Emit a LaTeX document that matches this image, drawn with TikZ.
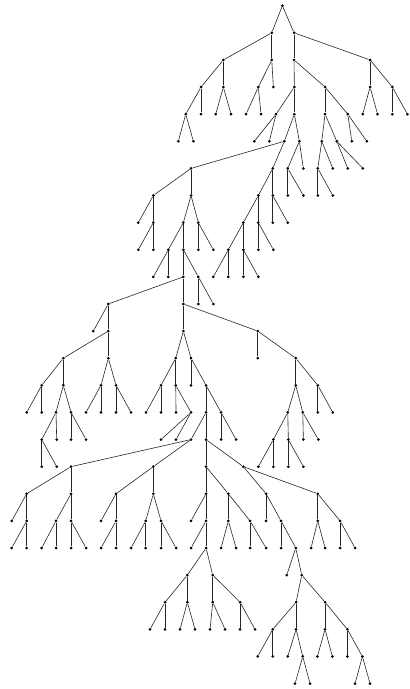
\documentclass[tikz,border=0pt]{standalone}
\usepackage{tikz}

\begin{document}
\begin{tikzpicture}[x=1pt, y=-27.11pt,
  dot/.style={circle, fill=black, inner sep=0pt, minimum size=3pt},
  edge/.style={draw=black!85, line width=0.6pt}]
\useasboundingbox (0,-0.21) rectangle (409,25.2);
% root
\node[dot] (n0-1) at (282.3,0) {};
% levels 1 to 4
\foreach \n/\x/\p in {1/271.7/0-1, 2/294/0-1}
  {\node[dot] (n1-\n) at (\x,1) {}; \draw[edge] (n\p) -- (n1-\n);}
\foreach \n/\x/\p in {1/223.3/1-1, 2/271.7/1-1, 3/294/1-2, 4/370/1-2}
  {\node[dot] (n2-\n) at (\x,2) {}; \draw[edge] (n\p) -- (n2-\n);}
\foreach \n/\x/\p in {1/201/2-1, 2/223.3/2-1, 3/258.3/2-2, 4/273.3/2-2,
    5/294.3/2-3, 6/325/2-3, 7/370/2-4, 8/392.3/2-4}
  {\node[dot] (n3-\n) at (\x,3) {}; \draw[edge] (n\p) -- (n3-\n);}
\foreach \n/\x/\p in {1/185.7/3-1, 2/201/3-1, 3/215.7/3-2, 4/231/3-2,
    5/246/3-3, 6/261/3-3, 7/276/3-5, 8/294.3/3-5, 9/325/3-6, 10/347.7/3-6,
    11/362.7/3-7, 12/377.5/3-7, 13/392.3/3-8, 14/407.3/3-8}
  {\node[dot] (n4-\n) at (\x,4) {}; \draw[edge] (n\p) -- (n4-\n);}
% levels 5 to 10
\foreach \n/\x/\p in {1/178.3/4-1, 2/193.3/4-1, 3/254.3/4-7, 4/269.3/4-7,
    5/284.3/4-8, 6/299.3/4-8, 7/321.7/4-9, 8/336.7/4-9, 9/351.7/4-10, 10/366.7/4-10}
  {\node[dot] (n5-\n) at (\x,5) {}; \draw[edge] (n\p) -- (n5-\n);}
\foreach \n/\x/\p in {1/191/5-5, 2/272.7/5-5, 3/287.7/5-6, 4/303.3/5-6,
    5/317.7/5-7, 6/332.7/5-7, 7/347.7/5-8, 8/362.7/5-8}
  {\node[dot] (n6-\n) at (\x,6) {}; \draw[edge] (n\p) -- (n6-\n);}
\foreach \n/\x/\p in {1/153.3/6-1, 2/191/6-1, 3/258.3/6-2, 4/272.7/6-2,
    5/287.7/6-3, 6/303.3/6-3, 7/317.7/6-5, 8/332.7/6-5}
  {\node[dot] (n7-\n) at (\x,7) {}; \draw[edge] (n\p) -- (n7-\n);}
\foreach \n/\x/\p in {1/138.3/7-1, 2/153.3/7-1, 3/183.3/7-2, 4/198.3/7-2,
    5/243.3/7-3, 6/258.3/7-3, 7/272.7/7-4, 8/287.7/7-4}
  {\node[dot] (n8-\n) at (\x,8) {}; \draw[edge] (n\p) -- (n8-\n);}
\foreach \n/\x/\p in {1/138.3/8-2, 2/153.3/8-2, 3/168.3/8-3, 4/183.3/8-3,
    5/198.3/8-4, 6/213.3/8-4, 7/228.3/8-5, 8/243.3/8-5, 9/258.3/8-6, 10/273.3/8-6}
  {\node[dot] (n9-\n) at (\x,9) {}; \draw[edge] (n\p) -- (n9-\n);}
\foreach \n/\x/\p in {1/153.3/9-3, 2/168.3/9-3, 3/183.3/9-4, 4/198.3/9-4,
    5/213.3/9-7, 6/228.3/9-7, 7/243.3/9-8, 8/258.3/9-8}
  {\node[dot] (n10-\n) at (\x,10) {}; \draw[edge] (n\p) -- (n10-\n);}
% levels 11 to 16
\foreach \n/\x/\p in {1/108.3/10-3, 2/183.3/10-3, 3/198.3/10-4, 4/213.3/10-4}
  {\node[dot] (n11-\n) at (\x,11) {}; \draw[edge] (n\p) -- (n11-\n);}
\foreach \n/\x/\p in {1/93.3/11-1, 2/108.3/11-1, 3/183.3/11-2, 4/257.7/11-2}
  {\node[dot] (n12-\n) at (\x,12) {}; \draw[edge] (n\p) -- (n12-\n);}
\foreach \n/\x/\p in {1/63.3/12-2, 2/108.3/12-2, 3/175.7/12-3, 4/191/12-3,
    5/257.7/12-4, 6/295.7/12-4}
  {\node[dot] (n13-\n) at (\x,13) {}; \draw[edge] (n\p) -- (n13-\n);}
\foreach \n/\x/\p in {1/41.7/13-1, 2/63.3/13-1, 3/101/13-2, 4/116/13-2,
    5/161/13-3, 6/175.7/13-3, 7/191/13-4, 8/206/13-4, 9/295.7/13-6, 10/317.7/13-6}
  {\node[dot] (n14-\n) at (\x,14) {}; \draw[edge] (n\p) -- (n14-\n);}
\foreach \n/\x/\p in {1/26.7/14-1, 2/41.7/14-1, 3/56/14-2, 4/71/14-2,
    5/86/14-3, 6/101/14-3, 7/116/14-4, 8/131/14-4, 9/146/14-5, 10/161/14-5,
    11/176/14-6, 12/191/14-6, 13/206/14-8, 14/221/14-8, 15/287.7/14-9,
    16/302.7/14-9, 17/317.7/14-10, 18/332.7/14-10}
  {\node[dot] (n15-\n) at (\x,15) {}; \draw[edge] (n\p) -- (n15-\n);}
\foreach \n/\x/\p in {1/41.7/15-3, 2/56.7/15-3, 3/71/15-4, 4/86/15-4,
    5/161/15-12, 6/176/15-12, 7/191/15-13, 8/206/15-13, 9/221/15-14,
    10/236/15-14, 11/273.3/15-15, 12/288.3/15-15, 13/303.3/15-16, 14/318.3/15-16}
  {\node[dot] (n16-\n) at (\x,16) {}; \draw[edge] (n\p) -- (n16-\n);}
% levels 17 to 20
\foreach \n/\x/\p in {1/41.7/16-1, 2/56.7/16-1, 3/71/16-7, 4/153.3/16-7,
    5/206/16-8, 6/243.3/16-8, 7/258.3/16-11, 8/273.3/16-11, 9/288.3/16-12, 10/303.3/16-12}
  {\node[dot] (n17-\n) at (\x,17) {}; \draw[edge] (n\p) -- (n17-\n);}
\foreach \n/\x/\p in {1/26.7/17-3, 2/71/17-3, 3/116/17-4, 4/153.3/17-4,
    5/206/17-5, 6/228.3/17-5, 7/266/17-6, 8/317.7/17-6}
  {\node[dot] (n18-\n) at (\x,18) {}; \draw[edge] (n\p) -- (n18-\n);}
\foreach \n/\x/\p in {1/11.7/18-1, 2/26.7/18-1, 3/56/18-2, 4/71/18-2,
    5/101/18-3, 6/116/18-3, 7/145.7/18-4, 8/161/18-4, 9/191/18-5, 10/206/18-5,
    11/228.3/18-6, 12/250/18-6, 13/266/18-7, 14/281/18-7, 15/317.7/18-8, 16/340/18-8}
  {\node[dot] (n19-\n) at (\x,19) {}; \draw[edge] (n\p) -- (n19-\n);}
\foreach \n/\x/\p in {1/11.7/19-2, 2/26.7/19-2, 3/41.7/19-3, 4/56/19-3,
    5/71/19-4, 6/86/19-4, 7/101/19-6, 8/116/19-6, 9/131/19-7, 10/145.7/19-7,
    11/161/19-8, 12/176/19-8, 13/191/19-10, 14/206/19-10, 15/221/19-11,
    16/236/19-11, 17/250/19-12, 18/266/19-12, 19/281/19-14, 20/295.7/19-14,
    21/311/19-15, 22/325/19-15, 23/340/19-16, 24/355/19-16}
  {\node[dot] (n20-\n) at (\x,20) {}; \draw[edge] (n\p) -- (n20-\n);}
% levels 21 to 25
\foreach \n/\x/\p in {1/187.3/20-14, 2/212.7/20-14, 3/286.7/20-20, 4/301.7/20-20}
  {\node[dot] (n21-\n) at (\x,21) {}; \draw[edge] (n\p) -- (n21-\n);}
\foreach \n/\x/\p in {1/165/21-1, 2/187.3/21-1, 3/212.7/21-2, 4/240/21-2,
    5/296/21-4, 6/325/21-4}
  {\node[dot] (n22-\n) at (\x,22) {}; \draw[edge] (n\p) -- (n22-\n);}
\foreach \n/\x/\p in {1/150/22-1, 2/165/22-1, 3/180/22-2, 4/195/22-2,
    5/210/22-3, 6/225/22-3, 7/240/22-4, 8/255/22-4, 9/272.7/22-5, 10/296/22-5,
    11/325/22-6, 12/347.3/22-6}
  {\node[dot] (n23-\n) at (\x,23) {}; \draw[edge] (n\p) -- (n23-\n);}
\foreach \n/\x/\p in {1/257.7/23-9, 2/272.7/23-9, 3/287.7/23-10, 4/302.7/23-10,
    5/317.3/23-11, 6/332.3/23-11, 7/347.3/23-12, 8/362.3/23-12}
  {\node[dot] (n24-\n) at (\x,24) {}; \draw[edge] (n\p) -- (n24-\n);}
\foreach \n/\x/\p in {1/295/24-4, 2/310/24-4, 3/355/24-8, 4/370/24-8}
  {\node[dot] (n25-\n) at (\x,25) {}; \draw[edge] (n\p) -- (n25-\n);}
\end{tikzpicture}
\end{document}
